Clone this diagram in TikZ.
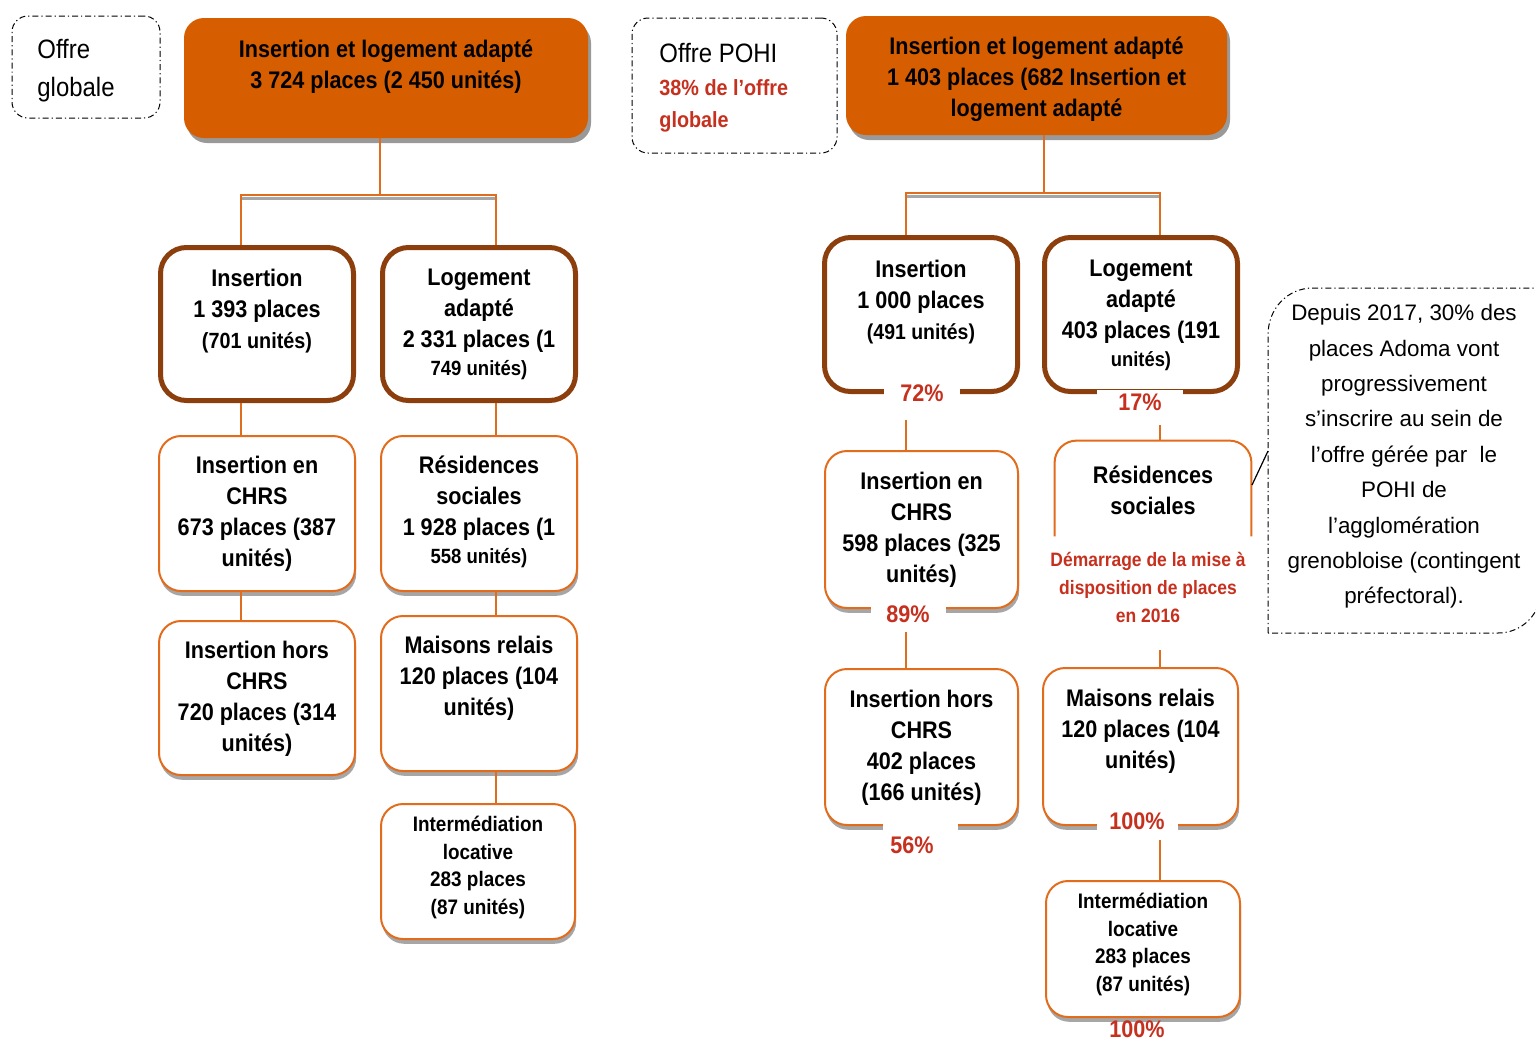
\documentclass[tikz,border=0pt]{standalone}
\usepackage{fontspec}
\setmainfont{Liberation Sans}[FakeStretch=0.9]
\newfontfamily\notefont{Liberation Sans}
\usetikzlibrary{shadows,calc}
\definecolor{orfill}{RGB}{214,94,0}
\definecolor{brownb}{RGB}{140,62,12}
\definecolor{orline}{RGB}{226,108,28}
\definecolor{redt}{RGB}{198,48,30}
\definecolor{connc}{RGB}{222,110,30}
\newcommand\fsz[2]{\fontsize{#1}{#2}\selectfont}
\begin{document}
\begin{tikzpicture}[x=0.5pt,y=-0.5pt,
  topbox/.style={rectangle, rounded corners=10pt, fill=orfill, draw=none, inner sep=0pt,
     drop shadow={shadow xshift=1.5pt, shadow yshift=-2.5pt, fill=black!40, opacity=1}},
  bigbox/.style={rectangle, rounded corners=13pt, draw=brownb, line width=2.5pt, fill=white, inner sep=0pt},
  smallbox/.style={rectangle, rounded corners=11pt, draw=orline, line width=1pt, fill=white, inner sep=0pt,
     drop shadow={shadow xshift=0.6pt, shadow yshift=-2.4pt, fill=black!35, opacity=1}},
  openbox/.style={draw=orline, line width=1pt, rounded corners=11pt},
  ddline/.style={line width=0.5pt, dash pattern=on 3pt off 1.5pt on 0.6pt off 1.5pt},
  ddbox/.style={rectangle, rounded corners=8pt, draw, ddline, inner sep=0pt},
  hdr/.style={align=center, inner sep=0pt, font=\bfseries\fsz{12}{15.5}},
  txt/.style={align=center, inner sep=0pt, font=\bfseries\fsz{12}{15.5}},
  plainlbl/.style={align=left, inner sep=0pt, font=\fsz{13.3}{19}},
  redlbl/.style={align=left, inner sep=0pt, text=redt, font=\bfseries\fsz{11}{16}},
  pct/.style={fill=white, text=redt, font=\bfseries\fsz{12}{14}, inner sep=0pt, minimum height=12.5pt},
  pcttext/.style={text=redt, font=\bfseries\fsz{12}{14}, inner sep=0pt},
  gapbox/.style={fill=white, inner sep=0pt, minimum height=7pt},
  conn/.style={draw=connc, line width=1.3pt},
  connshadow/.style={draw=black!35, line width=1.6pt},
  notetxt/.style={align=center, inner sep=0pt, font=\notefont\fsz{11.2}{17.7}}
]
\useasboundingbox (0,0) rectangle (1536,1039);

% ---------------- Left: offre globale ----------------
\node[ddbox, minimum width=74pt, minimum height=51pt] (OG) at (86,67) {};
\node[plainlbl, anchor=west] (OGt) at (37,71) {Offre\\globale};

\node[topbox, minimum width=202pt, minimum height=60pt] (LT) at (386,78) {};
\node[hdr] (LTt) at (386,66.5) {Insertion et logement adapté\\3 724 places (2 450 unités)};
\coordinate (LJ) at (380,195);

\node[bigbox, minimum width=96.5pt, minimum height=76.5pt] (LI) at (257,324) {};
\node[txt] (LIt) at (257,311) {Insertion\\1 393 places\\{\fsz{11}{14}(701 unités)}};
\node[bigbox, minimum width=96.5pt, minimum height=76.5pt] (LL) at (479,324) {};
\node[txt] (LLt) at (479,324) {Logement\\adapté\\2 331 places (1\\[-1.5pt]{\fsz{10.3}{13}749 unités)}};

\node[smallbox, minimum width=98pt, minimum height=77.5pt] (LC) at (257,513.5) {};
\node[txt] (LCt) at (257,513.5) {Insertion en\\CHRS\\673 places (387\\unités)};
\node[smallbox, minimum width=98pt, minimum height=77.5pt] (LR) at (479,513.5) {};
\node[txt] (LRt) at (479,512) {Résidences\\sociales\\1 928 places (1\\[-1.5pt]{\fsz{10.3}{13}558 unités)}};

\node[smallbox, minimum width=98pt, minimum height=77pt] (LH) at (257,698) {};
\node[txt] (LHt) at (257,699) {Insertion hors\\CHRS\\720 places (314\\unités)};
\node[smallbox, minimum width=98pt, minimum height=77.5pt] (LM) at (479,693.5) {};
\node[txt] (LMt) at (479,678) {Maisons relais\\120 places (104\\unités)};

\node[smallbox, minimum width=97pt, minimum height=67.5pt] (LIL) at (478,871.5) {};
\node[txt, font=\bfseries\fsz{10.5}{13.75}] (LILt) at (478,867.5) {Intermédiation\\locative\\283 places\\(87 unités)};

% left connectors
\coordinate (LIn) at ([xshift=-8pt]LI.north);
\coordinate (LLn) at ([xshift=8.5pt]LL.north);
\draw[connshadow, transform canvas={yshift=-1.8pt}] (LJ -| LIn) -- (LJ -| LLn);
\draw[conn] (LT.south -| LJ) -- (LJ);
\draw[conn] (LIn) |- (LJ) -| (LLn);
\draw[conn] ([xshift=-8pt]LI.south) -- ([xshift=-8pt]LC.north);
\draw[conn] ([xshift=8.5pt]LL.south) -- ([xshift=8.5pt]LR.north);
\draw[conn] ([xshift=-8pt]LC.south) -- ([xshift=-8pt]LH.north);
\draw[conn] ([xshift=8.5pt]LR.south) -- ([xshift=8.5pt]LM.north);
\draw[conn] ([xshift=8.5pt]LM.south) -- ([xshift=9pt]LIL.north);

% ---------------- Right: offre POHI ----------------
\node[ddbox, minimum width=102.5pt, minimum height=67.5pt] (OP) at (734.5,85.5) {};
\node[plainlbl, anchor=west] (OPa) at (659,53) {Offre POHI};
\node[redlbl, anchor=west] (OPb) at (659,106) {38\% de l’offre\\globale};

\node[topbox, minimum width=190.5pt, minimum height=59.5pt] (RT) at (1036.5,75.5) {};
\node[hdr] (RTt) at (1036.5,79.5) {Insertion et logement adapté\\1 403 places (682 Insertion et\\logement adapté};
\coordinate (RJ) at (1044,193);

\node[bigbox, minimum width=96.5pt, minimum height=77pt] (RI) at (921,314.5) {};
\node[txt] (RIt) at (921,302.5) {Insertion\\1 000 places\\{\fsz{10.8}{14}(491 unités)}};
\node[bigbox, minimum width=96.5pt, minimum height=77pt] (RL) at (1141,314.5) {};
\node[txt] (RLt) at (1141,315.5) {Logement\\adapté\\403 places (191\\[-1.5pt]{\fsz{10.2}{13}unités)}};

\node[smallbox, minimum width=96.5pt, minimum height=78.5pt] (RC) at (921.5,529.5) {};
\node[txt] (RCt) at (921.5,530) {Insertion en\\CHRS\\598 places (325\\unités)};

\node[draw=none, minimum width=98pt, minimum height=47.5pt, inner sep=0pt] (RR) at (1153,488.5) {};
\draw[openbox] (RR.south west) |- (RR.north) -| (RR.south east);
\node[txt] (RRt) at (1153,490) {Résidences\\sociales};
\node[redlbl, align=center, font=\bfseries\fsz{9.7}{14}] (RRn) at (1148,587) {Démarrage de la mise à\\disposition de places\\en 2016};

\node[smallbox, minimum width=96.5pt, minimum height=78pt] (RH) at (921.5,747) {};
\node[txt] (RHt) at (921.5,747.5) {Insertion hors\\CHRS\\402 places\\(166 unités)};

\node[smallbox, minimum width=97.5pt, minimum height=78.5pt] (RM) at (1140.5,746.5) {};
\node[txt] (RMt) at (1140.5,731.5) {Maisons relais\\120 places (104\\unités)};

\node[smallbox, minimum width=97pt, minimum height=68pt] (RIL) at (1143,949) {};
\node[txt, font=\bfseries\fsz{10.5}{13.8}] (RILt) at (1143,944.5) {Intermédiation\\locative\\283 places\\(87 unités)};

% right connectors
\coordinate (RIn) at ([xshift=-7.5pt]RI.north);
\coordinate (RLn) at ([xshift=9.5pt]RL.north);
\draw[connshadow, transform canvas={yshift=-1.8pt}] (RJ -| RIn) -- (RJ -| RLn);
\draw[conn] (RT.south -| RJ) -- (RJ);
\draw[conn] (RIn) |- (RJ) -| (RLn);
\draw[conn] ([shift={(-7.5pt,-13pt)}]RI.south) -- ([xshift=-7.75pt]RC.north);
\draw[conn] ([shift={(9.5pt,-15.5pt)}]RL.south) -- ([xshift=3.5pt]RR.north);
\draw[conn] ([shift={(-7.75pt,-11.5pt)}]RC.south) -- ([xshift=-7.75pt]RH.north);
\draw[conn] ([shift={(3.5pt,-57pt)}]RR.south) -- ([xshift=9.75pt]RM.north);
\draw[conn] ([shift={(9.75pt,-7pt)}]RM.south) -- ([xshift=8.5pt]RIL.north);

% percentages
\node[pct, minimum width=38pt] (p72) at (922,393) {72\%};
\node[pct, minimum width=43pt] (p17) at (1140,402) {17\%};
\node[pct, minimum width=37.5pt, minimum height=13pt] (p89) at (908,614) {89\%};
\node[gapbox, minimum width=37.5pt] (g56) at (920,828) {};
\node[pcttext] (p56) at (912,845) {56\%};
\node[pct, minimum width=40.5pt, minimum height=13pt] (p100a) at (1137,821) {100\%};
\node[pcttext] (p100b) at (1137,1029) {100\%};

% note
\draw[ddline] (1268,633) -- (1268,335) .. controls (1268,309) and (1287,288) .. (1313,288)
   -- (1541,288) -- (1541,590) .. controls (1541,614) and (1522,633) .. (1498,633) -- cycle;
\node[notetxt] (NT) at (1404,456.5) {Depuis 2017, 30\% des\\places Adoma vont\\progressivement\\s’inscrire au sein de\\l’offre gérée par~ le\\POHI de\\l’agglomération\\grenobloise (contingent\\préfectoral).};
\coordinate (CA) at (1252,485);
\coordinate (CB) at (1268,451);
\draw[line width=0.6pt] (CA) -- (CB);
\end{tikzpicture}
\end{document}
